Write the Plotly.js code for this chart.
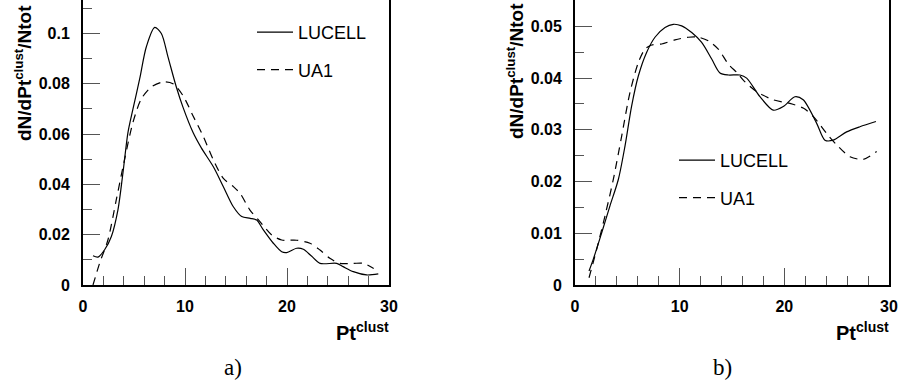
<!DOCTYPE html>
<html>
<head>
<meta charset="utf-8">
<script src="https://cdn.plot.ly/plotly-3.0.1.min.js"></script>
<style>
html,body{margin:0;padding:0;background:#fff;}
#chart{width:899px;height:385px;}
</style>
</head>
<body>
<div id="chart"></div>
<script>
// ---- data: panel a) ----
const ptA_lucell  = [0.98, 1.47, 2.12, 2.78, 3.43, 3.92, 4.41, 4.9, 5.56, 6.21, 7.03, 7.68, 8.33, 9.15, 9.8, 10.78, 11.6, 12.78, 13.76, 14.74, 15.56, 16.4, 17.03, 17.68, 18.66, 19.48, 19.97, 20.95, 21.6, 22.4, 23.24, 24.87, 25.5, 26.5, 27.8, 28.95];
const valA_lucell = [0.0116, 0.0111, 0.014, 0.0193, 0.030, 0.0447, 0.0607, 0.070, 0.082, 0.0947, 0.1024, 0.100, 0.0907, 0.0787, 0.0707, 0.0607, 0.0545, 0.047, 0.0391, 0.0311, 0.0272, 0.0265, 0.0258, 0.0219, 0.0166, 0.0132, 0.0129, 0.0146, 0.0142, 0.0115, 0.0086, 0.0086, 0.0073, 0.0053, 0.0040, 0.0044];
const ptA_ua1     = [0.98, 1.63, 2.45, 3.27, 4.08, 4.9, 5.72, 6.7, 7.84, 8.82, 9.8, 10.78, 11.8, 12.78, 13.76, 14.74, 15.39, 16.37, 17.35, 18.5, 19.48, 20.95, 22.25, 23.24, 24.2, 25.2, 26.5, 27.5, 28.5];
const valA_ua1    = [0.0, 0.0087, 0.018, 0.034, 0.050, 0.0647, 0.074, 0.0787, 0.0807, 0.080, 0.0753, 0.0673, 0.059, 0.0497, 0.0424, 0.0391, 0.0365, 0.0298, 0.0252, 0.0199, 0.0179, 0.0178, 0.0166, 0.0139, 0.0106, 0.0086, 0.0086, 0.0086, 0.0066];

// ---- data: panel b) ----
const ptB_lucell  = [1.34, 1.75, 2.55, 3.34, 4.14, 4.78, 5.41, 6.05, 6.85, 7.64, 8.6, 9.39, 10.19, 11.15, 12.1, 13.06, 13.85, 14.65, 15.76, 16.4, 17.67, 18.94, 19.9, 21.01, 21.8, 23.08, 23.88, 24.67, 25.95, 27.22, 28.75];
const valB_lucell = [0.0027, 0.005, 0.0101, 0.0153, 0.0204, 0.0269, 0.0346, 0.0404, 0.045, 0.0479, 0.0498, 0.0504, 0.0501, 0.0488, 0.0469, 0.0437, 0.041, 0.0406, 0.0406, 0.040, 0.0364, 0.0338, 0.0345, 0.0364, 0.0358, 0.0313, 0.028, 0.028, 0.0296, 0.0306, 0.0316];
const ptB_ua1     = [1.34, 2.07, 2.87, 3.66, 4.46, 5.25, 6.05, 6.69, 7.32, 8.28, 9.55, 10.83, 11.78, 12.74, 13.69, 14.65, 15.5, 16.08, 17.35, 18.94, 20.53, 21.8, 22.76, 24.04, 25.0, 26.27, 27.54, 28.82];
const valB_ua1    = [0.0014, 0.0069, 0.0134, 0.0204, 0.0288, 0.0372, 0.043, 0.0456, 0.0464, 0.0466, 0.0474, 0.0479, 0.0479, 0.0472, 0.0456, 0.0427, 0.041, 0.0396, 0.0374, 0.0358, 0.0351, 0.0342, 0.0326, 0.0293, 0.0271, 0.0248, 0.0243, 0.0258];

const seriesNames = ['LUCELL', 'UA1'];
const panelLabels = ['a)', 'b)'];
const yTitle = 'dN/dPt<sup>clust</sup>/Ntot';
const xTitle = 'Pt<sup>clust</sup>';

const W = 899, H = 385;
const px = v => v / W;
const py = v => 1 - v / H;

const solid = {color: '#000', width: 1.2, shape: 'spline', smoothing: 0.8};
const dashed = {color: '#000', width: 1.2, shape: 'spline', smoothing: 0.8, dash: '8px,6px'};

const traces = [
  {x: ptA_lucell, y: valA_lucell, xaxis: 'x', yaxis: 'y', mode: 'lines', name: seriesNames[0], line: solid, legend: 'legend', legendgroup: 'a1'},
  {x: ptA_ua1, y: valA_ua1, xaxis: 'x', yaxis: 'y', mode: 'lines', name: seriesNames[1], line: dashed, legend: 'legend', legendgroup: 'a2'},
  {x: ptB_lucell, y: valB_lucell, xaxis: 'x2', yaxis: 'y2', mode: 'lines', name: seriesNames[0], line: solid, legend: 'legend2', legendgroup: 'b1'},
  {x: ptB_ua1, y: valB_ua1, xaxis: 'x2', yaxis: 'y2', mode: 'lines', name: seriesNames[1], line: dashed, legend: 'legend2', legendgroup: 'b2'}
];

const tickFont = {family: 'Liberation Sans, Arial, sans-serif', size: 16, weight: 'bold', color: '#000'};
function xAxis(domain, anchor) {
  return {
    domain: domain, anchor: anchor, range: [0, 30], dtick: 10, tick0: 0,
    showgrid: false, zeroline: false, showline: true, linecolor: '#000', linewidth: 2, mirror: false,
    ticks: 'inside', ticklen: 17, tickwidth: 1, tickcolor: '#555',
    minor: {ticks: 'inside', ticklen: 9, tickwidth: 1, tickcolor: '#555', dtick: 2, tick0: 0, showgrid: false},
    tickfont: tickFont, ticklabelstandoff: 6, fixedrange: true
  };
}
function yAxis(domain, anchor, top, dt) {
  return {
    domain: domain, anchor: anchor, range: [0, top], dtick: dt, tick0: 0,
    showgrid: false, zeroline: false, showline: true, linecolor: '#000', linewidth: 2, mirror: true,
    ticks: 'inside', ticklen: 17, tickwidth: 1, tickcolor: '#555',
    minor: {ticks: 'inside', ticklen: 9, tickwidth: 1, tickcolor: '#555', dtick: dt / 2, tick0: 0, showgrid: false},
    tickfont: tickFont, ticklabelstandoff: 8, fixedrange: true
  };
}

const legendBase = {
  bgcolor: 'rgba(0,0,0,0)', borderwidth: 0, xanchor: 'left', yanchor: 'top',
  font: {family: 'Liberation Sans, Arial, sans-serif', size: 18, color: '#000'},
  traceorder: 'grouped', tracegroupgap: 11, itemwidth: 36
};

const titleFont = {family: 'Liberation Sans, Arial, sans-serif', size: 19, weight: 'bold', color: '#000'};
const xtFont = {family: 'Liberation Sans, Arial, sans-serif', size: 20, weight: 'bold', color: '#000'};
const labFont = {family: 'Liberation Serif, Times New Roman, serif', size: 23, color: '#000'};

const layout = {
  width: W, height: H,
  margin: {l: 0, r: 0, t: 0, b: 0},
  paper_bgcolor: '#fff', plot_bgcolor: '#fff',
  showlegend: true,
  xaxis: xAxis([px(83), px(389)], 'y'),
  yaxis: yAxis([100 / H, 1], 'x', 0.1133, 0.02),
  xaxis2: xAxis([px(575), px(889)], 'y2'),
  yaxis2: yAxis([100 / H, 1], 'x2', 0.0551, 0.01),
  legend: Object.assign({}, legendBase, {x: px(252), y: py(14)}),
  legend2: Object.assign({}, legendBase, {x: px(674), y: py(142)}),
  annotations: [
    {xref: 'paper', yref: 'paper', x: px(23), y: py(143), xanchor: 'center', yanchor: 'bottom', textangle: -90, text: yTitle, showarrow: false, font: titleFont},
    {xref: 'paper', yref: 'paper', x: px(515), y: py(141), xanchor: 'center', yanchor: 'bottom', textangle: -90, text: yTitle, showarrow: false, font: titleFont},
    {xref: 'paper', yref: 'paper', x: px(391), y: py(331), xanchor: 'right', yanchor: 'middle', text: xTitle, showarrow: false, font: xtFont},
    {xref: 'paper', yref: 'paper', x: px(891), y: py(331), xanchor: 'right', yanchor: 'middle', text: xTitle, showarrow: false, font: xtFont},
    {xref: 'paper', yref: 'paper', x: px(233), y: py(367), xanchor: 'center', yanchor: 'middle', text: panelLabels[0], showarrow: false, font: labFont},
    {xref: 'paper', yref: 'paper', x: px(722), y: py(367), xanchor: 'center', yanchor: 'middle', text: panelLabels[1], showarrow: false, font: labFont}
  ]
};

Plotly.newPlot('chart', traces, layout, {staticPlot: true, displayModeBar: false});
</script>
</body>
</html>
